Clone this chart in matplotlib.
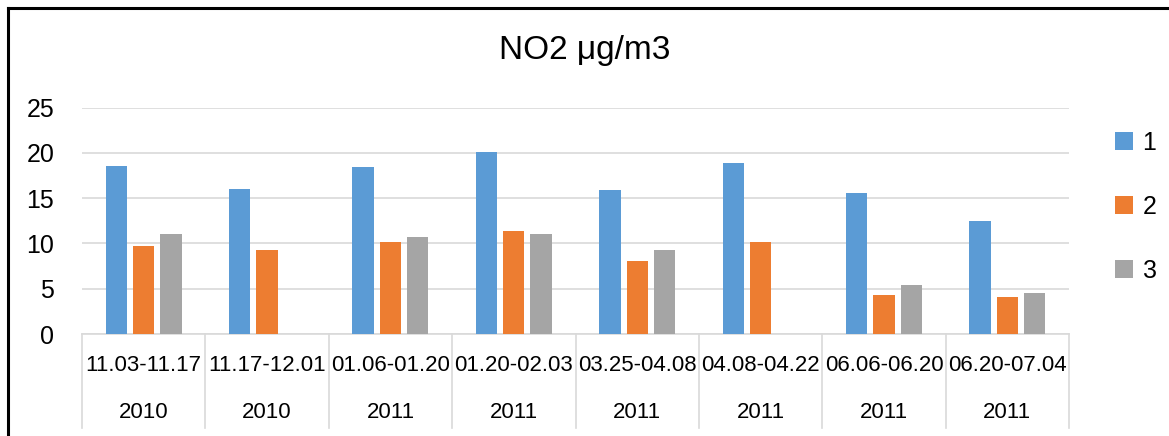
import matplotlib
matplotlib.use('Agg')
import matplotlib.pyplot as plt
import matplotlib.transforms as mtransforms
import numpy as np

plt.rcParams['font.family'] = ['Liberation Sans', 'DejaVu Sans']

periods = ['11.03-11.17', '11.17-12.01', '01.06-01.20', '01.20-02.03',
           '03.25-04.08', '04.08-04.22', '06.06-06.20', '06.20-07.04']
years = ['2010', '2010', '2011', '2011', '2011', '2011', '2011', '2011']
s1 = [18.6, 16.0, 18.4, 20.1, 15.9, 18.9, 15.6, 12.5]
s2 = [9.7, 9.3, 10.2, 11.4, 8.1, 10.15, 4.35, 4.1]
s3 = [11.0, np.nan, 10.7, 11.0, 9.3, np.nan, 5.45, 4.5]
series_names = ['1', '2', '3']
colors = ['#5B9BD5', '#ED7D31', '#A5A5A5']

fig = plt.figure(figsize=(11.69, 4.36), dpi=100)
ax = fig.add_axes([82/1169, 1 - 334/436, (1069 - 82)/1169, (334 - 107.7)/436])

x = np.arange(len(periods))
width = 0.173
step = 0.221
for k, (vals, c, name) in enumerate(zip([s1, s2, s3], colors, series_names)):
    ax.bar(x + (k - 1) * step, vals, width, color=c, label=name, zorder=3)

ax.set_xlim(-0.5, len(periods) - 0.5)
ax.set_ylim(0, 25)
ax.set_yticks([0, 5, 10, 15, 20, 25])
ax.yaxis.grid(True, color='#d9d9d9', linewidth=1.2, zorder=0)
for sp in ['left', 'right', 'top']:
    ax.spines[sp].set_visible(False)
ax.spines['bottom'].set_color('#d9d9d9')
ax.spines['bottom'].set_linewidth(1.2)
ax.tick_params(axis='y', length=0, labelsize=18, pad=20)
ax.tick_params(axis='x', length=0, labelbottom=False)

# category table under the axis
trans = mtransforms.blended_transform_factory(ax.transData, ax.transAxes)
for i in range(len(periods)):
    ax.text(x[i], -0.137, periods[i], transform=trans, ha='center', va='center', fontsize=16)
    ax.text(x[i], -0.345, years[i], transform=trans, ha='center', va='center', fontsize=16)
for b in np.arange(-0.5, len(periods), 1.0):
    ax.plot([b, b], [0, -0.415], transform=trans, color='#d9d9d9', linewidth=1.2, clip_on=False)

fig.text(0.5, 1 - 51/436, 'NO2 μg/m3', ha='center', va='center', fontsize=24)

fig.legend(loc='center left', bbox_to_anchor=(1115/1169, 1 - 206.7/436),
           bbox_transform=fig.transFigure, frameon=False, fontsize=18,
           handlelength=0.7, handleheight=0.7, handletextpad=0.4,
           labelspacing=1.6, borderpad=0, borderaxespad=0)

# chart border (left and top edges visible)
fig.add_artist(plt.Line2D([8/1169, 8/1169], [0, 1 - 8/436], color='black', linewidth=2.2))
fig.add_artist(plt.Line2D([8/1169, 1], [1 - 8/436, 1 - 8/436], color='black', linewidth=2.2))

fig.savefig('out.png', dpi=100)
